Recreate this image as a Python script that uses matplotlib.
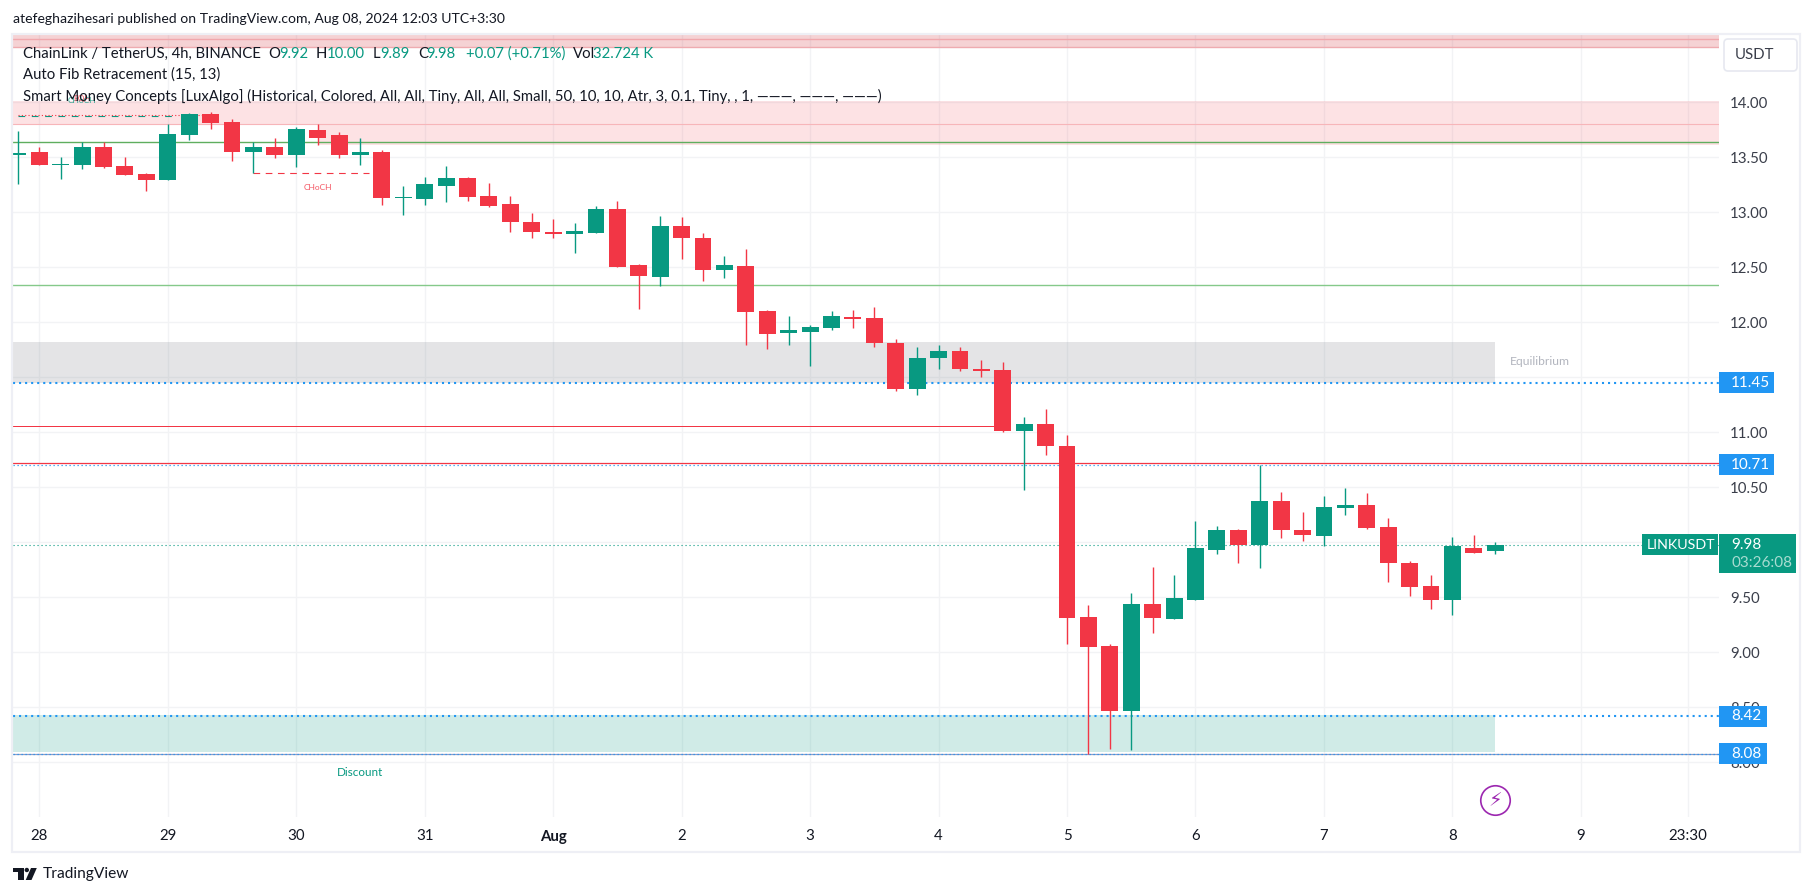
#!/usr/bin/env python3
import matplotlib
matplotlib.use("Agg")
import matplotlib.pyplot as plt
from matplotlib.patches import Rectangle, FancyBboxPatch, Polygon, Circle
from matplotlib.transforms import blended_transform_factory

W, H = 1814, 896
GREEN = "#089981"
RED = "#F23645"
BLUE = "#2196F3"
INK = "#131722"

plt.rcParams["font.family"] = ["Lato", "DejaVu Sans"]

# 4h candles, first one is cut by the left edge
opens = [13.52, 13.55, 13.43, 13.43, 13.59, 13.42, 13.35, 13.29, 13.70, 13.89,
         13.82, 13.55, 13.59, 13.52, 13.75, 13.70, 13.52, 13.55, 13.13, 13.12,
         13.24, 13.31, 13.15, 13.08, 12.91, 12.82, 12.80, 12.81, 13.03, 12.52,
         12.41, 12.88, 12.77, 12.48, 12.51, 12.10, 11.90, 11.91, 11.95, 12.05,
         12.04, 11.81, 11.39, 11.68, 11.74, 11.58, 11.57, 11.01, 11.08, 10.88,
         9.32, 9.06, 8.47, 9.44, 9.30, 9.48, 9.93, 10.11, 9.98, 10.38,
         10.11, 10.06, 10.31, 10.34, 10.14, 9.81, 9.60, 9.48, 9.95, 9.92]
highs = [13.74, 13.59, 13.50, 13.64, 13.64, 13.50, 13.36, 13.80, 13.90, 13.91,
         13.85, 13.64, 13.68, 13.78, 13.80, 13.73, 13.68, 13.57, 13.24, 13.32,
         13.42, 13.32, 13.27, 13.15, 12.99, 12.94, 12.90, 13.06, 13.10, 12.53,
         12.97, 12.96, 12.81, 12.60, 12.67, 12.11, 12.06, 11.98, 12.10, 12.11,
         12.14, 11.85, 11.78, 11.79, 11.78, 11.66, 11.64, 11.14, 11.21, 10.98,
         9.43, 9.08, 9.54, 9.78, 9.70, 10.19, 10.15, 10.12, 10.70, 10.46,
         10.28, 10.42, 10.49, 10.45, 10.22, 9.83, 9.70, 10.05, 10.07, 10.00]
lows = [13.26, 13.43, 13.30, 13.39, 13.40, 13.34, 13.19, 13.29, 13.66, 13.76,
        13.47, 13.36, 13.49, 13.41, 13.61, 13.49, 13.43, 13.07, 12.98, 13.07,
        13.09, 13.10, 13.05, 12.82, 12.77, 12.77, 12.63, 12.81, 12.50, 12.12,
        12.33, 12.58, 12.38, 12.40, 11.79, 11.76, 11.79, 11.60, 11.93, 11.95,
        11.78, 11.38, 11.34, 11.58, 11.56, 11.50, 11.00, 10.48, 10.79, 9.08,
        8.08, 8.12, 8.11, 9.18, 9.30, 9.48, 9.89, 9.81, 9.77, 10.04,
        10.01, 9.97, 10.25, 10.12, 9.64, 9.51, 9.39, 9.34, 9.90, 9.89]
closes = [13.54, 13.43, 13.44, 13.59, 13.41, 13.34, 13.29, 13.71, 13.89, 13.81,
          13.55, 13.59, 13.52, 13.76, 13.68, 13.52, 13.55, 13.13, 13.14, 13.26,
          13.31, 13.14, 13.06, 12.91, 12.82, 12.80, 12.83, 13.03, 12.50, 12.42,
          12.88, 12.77, 12.48, 12.52, 12.09, 11.89, 11.93, 11.96, 12.06, 12.03,
          11.81, 11.39, 11.68, 11.74, 11.58, 11.56, 11.01, 11.08, 10.88, 9.31,
          9.05, 8.47, 9.44, 9.31, 9.49, 9.95, 10.11, 9.98, 10.38, 10.11,
          10.07, 10.32, 10.34, 10.13, 9.81, 9.59, 9.48, 9.97, 9.90, 9.98]

price_ticks = [8.0, 8.5, 9.0, 9.5, 10.0, 10.5, 11.0, 11.5, 12.0, 12.5, 13.0, 13.5, 14.0]
day_ticks = [1, 7, 13, 19, 25, 31, 37, 43, 49, 55, 61, 67, 73, 78]
day_labels = ["28", "29", "30", "31", "Aug", "2", "3", "4", "5", "6", "7", "8", "9", "23:30"]

level_values = [11.45, 10.705, 8.42, 8.08]
level_labels = ["11.45", "10.71", "8.42", "8.08"]
last_price = 9.98


def fx(px):
    return px / W


fig = plt.figure(figsize=(W / 100, H / 100), dpi=100, facecolor="white")
ax = fig.add_axes([fx(13), 1 - 817 / H, fx(1719 - 13), (817 - 34) / H])
ax.set_xlim(-0.228, 79.45)
ax.set_ylim(7.503, 14.621)
for s in ax.spines.values():
    s.set_visible(False)

ax.set_yticks(price_ticks)
ax.set_yticklabels([f"{p:.2f}" for p in price_ticks], fontsize=10.8, color="#3a3e4a")
ax.yaxis.tick_right()
ax.set_xticks(day_ticks)
ax.set_xticklabels(day_labels, fontsize=10.8, color=INK)
ax.get_xticklabels()[4].set_fontweight("bold")
ax.tick_params(axis="both", length=0)
ax.tick_params(axis="y", pad=8)
ax.tick_params(axis="x", pad=9)
ax.grid(True, color="#f2f3f5", linewidth=1.0)
ax.set_axisbelow(True)

# zones
ax.axhspan(14.505, 14.621, color="#d9545c", alpha=0.26, lw=0, zorder=1)
ax.axhline(14.58, color="#f0a8ad", lw=1.0, zorder=1.5)
ax.axhline(14.505, color="#eeabb0", lw=1.0, zorder=1.5)
ax.axhspan(13.80, 14.01, color=RED, alpha=0.14, lw=0, zorder=1)
ax.axhspan(13.61, 13.80, xmin=(14 + 0.228) / 79.678, color=RED, alpha=0.14, lw=0, zorder=1)
ax.axhline(13.80, color="#f7b5b9", lw=0.8, zorder=1.5)
ax.add_patch(Rectangle((-1, 11.45), 70, 11.82 - 11.45, color="#787B86", alpha=0.2, lw=0, zorder=1))
ax.add_patch(Rectangle((-1, 8.09), 70, 8.43 - 8.09, color=GREEN, alpha=0.19, lw=0, zorder=1))

# horizontal structure lines
ax.axhline(13.64, color="#5fae5f", lw=1.0, zorder=2)
ax.axhline(12.336, color="#85c98a", lw=1.0, zorder=2)
ax.hlines(11.055, -1, 46, color=RED, lw=0.72, zorder=2)
ax.axhline(8.072, color="#8c9ac4", lw=0.9, zorder=2)
ax.axhline(last_price, color=GREEN, lw=0.8, ls=(0, (1, 2.6)), zorder=2)
for lv, lw in zip(level_values, [1.5, 0.9, 1.5, 0.9]):
    ax.axhline(lv, color=BLUE, lw=lw, ls=(0, (1, 1.9 if lw > 1 else 2.2)), zorder=2.5)
ax.axhline(10.722, color=RED, lw=0.9, zorder=2.6)

# CHoCH / EQH marks
ax.hlines(13.36, 11, 16.4, color=RED, lw=0.8, ls=(0, (6, 5)), zorder=2)
ax.hlines(13.876, 0, 7.5, color=GREEN, lw=0.8, ls=(0, (6, 6)), zorder=2)
ax.hlines(13.885, 0, 9, color=RED, lw=0.8, ls=(0, (1, 2)), zorder=2)
ax.text(14, 13.23, "CHoCH", color=RED, fontsize=6, alpha=0.85, ha="center", va="center", zorder=2)
ax.text(3, 14.015, "CHoCH", color=GREEN, fontsize=6, alpha=0.85, ha="center", va="center", zorder=2)
ax.text(3, 14.035, "EQH", color=RED, fontsize=6, alpha=0.85, ha="center", va="center", zorder=2)
ax.text(71.1, 11.64, "Equilibrium", color="#b2b5be", fontsize=8.7, ha="center", va="center", zorder=2)
ax.text(16, 7.91, "Discount", color=GREEN, fontsize=8.4, ha="center", va="center", zorder=2)

# candles
xs = list(range(len(opens)))
colors = [GREEN if c >= o else RED for o, c in zip(opens, closes)]
ax.vlines(xs, lows, highs, colors=colors, lw=1.0, zorder=3)
ax.bar(xs, [abs(c - o) for o, c in zip(opens, closes)], bottom=[min(o, c) for o, c in zip(opens, closes)],
       width=0.79, color=colors, linewidth=0, zorder=4)

# bolt marker under the last candle
ax.scatter([69], [7.654], s=450, facecolors="white", edgecolors="#9C27B0", linewidths=1.2, zorder=5)
ax.text(69, 7.654, "\u26a1", color="#9C27B0", fontsize=14, family="DejaVu Sans", ha="center", va="center", zorder=6)

# page furniture in pixel coordinates
ov = fig.add_axes([0, 0, 1, 1], facecolor="none")
ov.set_xlim(0, W)
ov.set_ylim(H, 0)
ov.axis("off")
ov.add_patch(Rectangle((12, 34), 1800 - 12, 852 - 34, fill=False, ec="#eeeff5", lw=1.6))

ov.text(13, 19, "atefeghazihesari published on TradingView.com, Aug 08, 2024 12:03 UTC+3:30",
        fontsize=10.1, color=INK, va="center")
ov.text(23, 54, "ChainLink / TetherUS, 4h, BINANCE", fontsize=10.7, color=INK, va="center")
legend_bits = [(268, "O", INK), (279, "9.92", GREEN), (316, "H", INK), (327, "10.00", GREEN),
               (372.5, "L", INK), (380, "9.89", GREEN), (418, "C", INK), (426, "9.98", GREEN),
               (466, "+0.07 (+0.71%)", GREEN), (573, "Vol", INK), (593, "32.724 K", GREEN)]
for px, txt, col in legend_bits:
    ov.text(px, 54, txt, fontsize=10.7, color=col, va="center")
ov.text(23, 75, "Auto Fib Retracement (15, 13)", fontsize=10.7, color=INK, va="center")
ov.text(23, 96, "Smart Money Concepts [LuxAlgo] (Historical, Colored, All, All, Tiny, All, All, Small, 50, 10, 10, "
                "Atr, 3, 0.1, Tiny, , 1, \u2014\u2014\u2014, \u2014\u2014\u2014, \u2014\u2014\u2014)",
        fontsize=10.7, color=INK, va="center")

ov.add_patch(FancyBboxPatch((1727, 42), 67, 26, boxstyle="round,pad=3,rounding_size=4",
                            fc="white", ec="#e6e8f0", lw=1.2))
ov.text(1735, 55, "USDT", fontsize=10.8, color="#3a3e4a", va="center")

# price labels, y follows the price scale
tr = blended_transform_factory(ov.transData, ax.transData)
for lv, txt in zip(level_values, level_labels):
    right = 1774 if lv > 10 else 1766.5
    ov.add_patch(Rectangle((1719, lv - 0.095), right - 1719, 0.19, fc=BLUE, ec="none", transform=tr))
    ov.text(1731, lv, txt, fontsize=11, color="white", va="center", transform=tr)

ov.add_patch(Rectangle((1719, 534), 77, 38.7, fc=GREEN, ec="none"))
ov.add_patch(Rectangle((1642, 534), 75.7, 20.7, fc=GREEN, ec="none"))
ov.text(1647, 544.7, "LINKUSDT", fontsize=10.3, color="white", va="center")
ov.text(1731, 544.7, f"{last_price:.2f}", fontsize=11, color="white", va="center")
ov.text(1731, 562.7, "03:26:08", fontsize=11, color="#a8dcd1", va="center")

# TradingView logo and wordmark
ov.add_patch(Rectangle((12.8, 868), 11, 3.8, fc=INK, ec="none"))
ov.add_patch(Rectangle((17.5, 868), 6.3, 12, fc=INK, ec="none"))
ov.add_patch(Circle((26.8, 870), 2.2, fc=INK, ec="none"))
ov.add_patch(Polygon([[31, 868], [36.8, 868], [31.5, 880], [25.7, 880]], fc=INK, ec="none"))
ov.text(43, 874, "TradingView", fontsize=11.2, color=INK, va="center")

fig.savefig("out.png", dpi=100)
plt.close(fig)
